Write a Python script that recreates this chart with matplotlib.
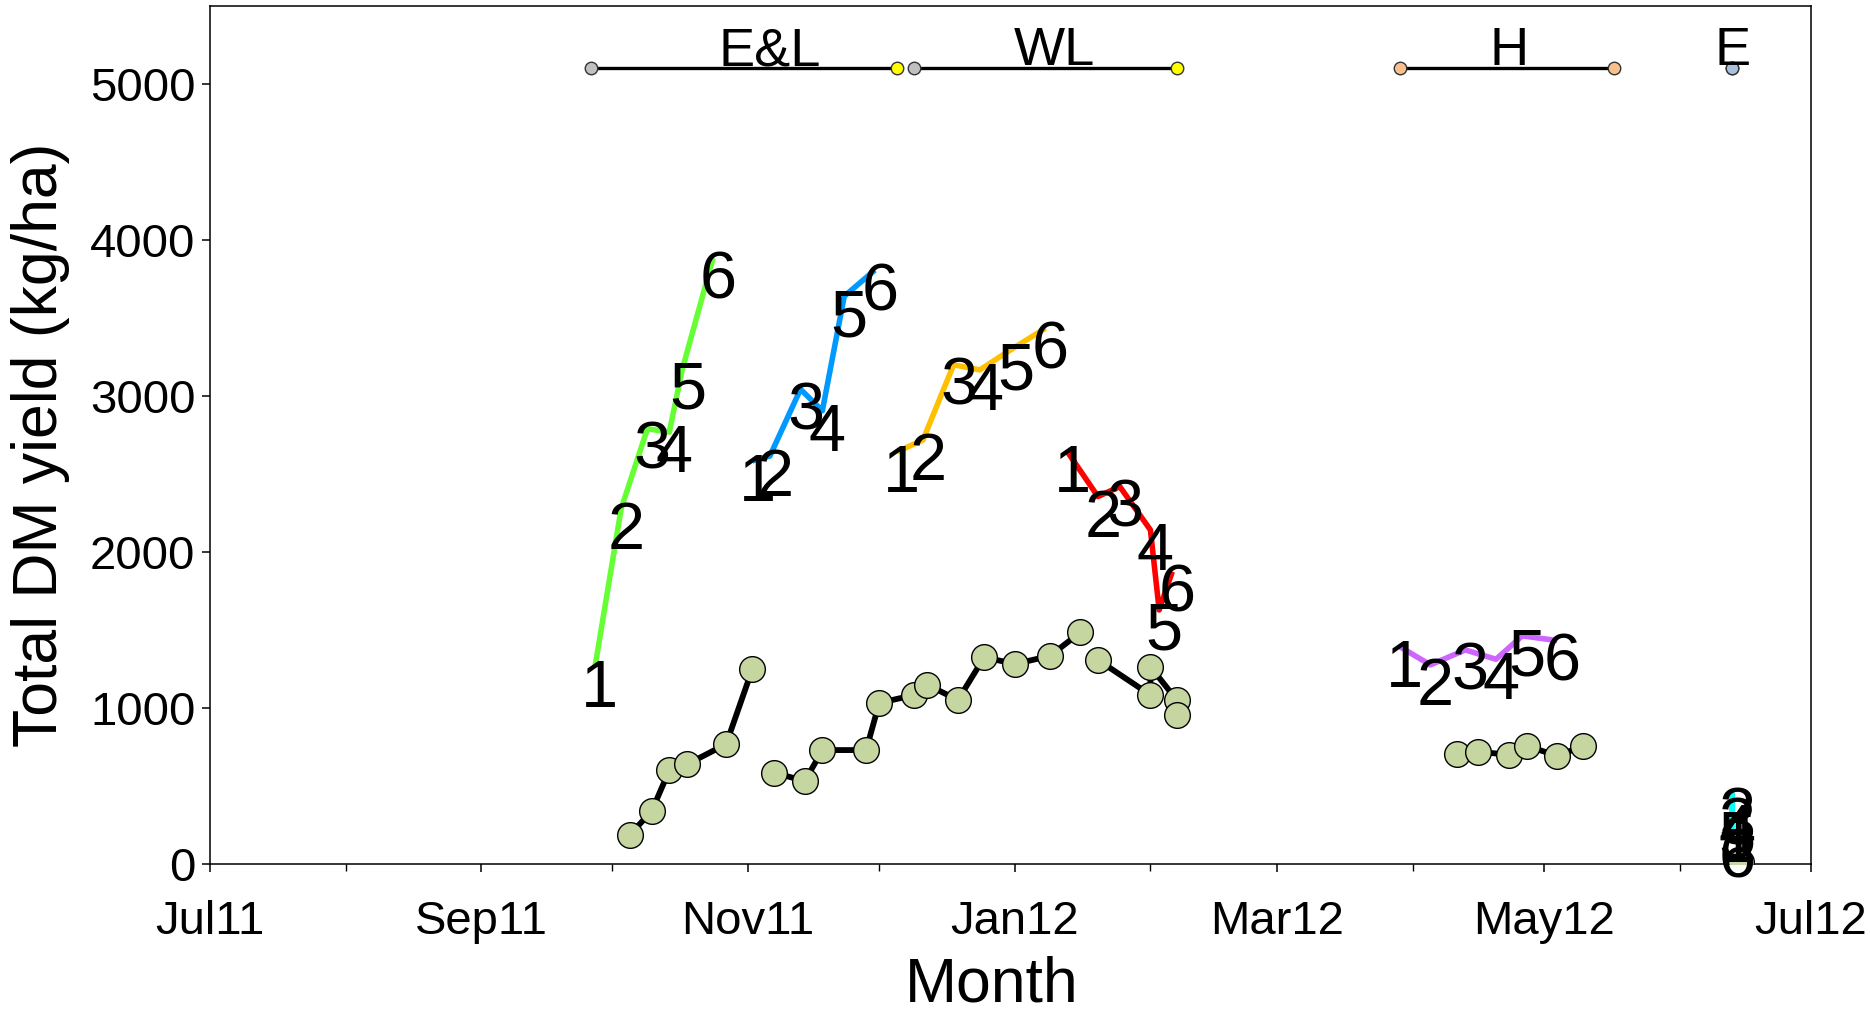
import datetime as dt
import matplotlib
matplotlib.use("Agg")
import matplotlib.pyplot as plt
import matplotlib.dates as mdates

plt.rcParams['font.family'] = ['Liberation Sans', 'DejaVu Sans']

# ---------------- data ----------------
# cumulative DM yield series, points labelled 1..6
el_green_dates = ['2011-09-27', '2011-10-03', '2011-10-09', '2011-10-14', '2011-10-17', '2011-10-24']
el_green_vals = [1261, 2278, 2790, 2768, 3173, 3884]

el_blue_dates = ['2011-11-02', '2011-11-06', '2011-11-13', '2011-11-18', '2011-11-23', '2011-11-30']
el_blue_vals = [2584, 2615, 3043, 2905, 3639, 3807]

wl_orange_dates = ['2011-12-05', '2011-12-11', '2011-12-18', '2011-12-24', '2011-12-31', '2012-01-08']
wl_orange_vals = [2641, 2718, 3200, 3167, 3295, 3434]

wl_red_dates = ['2012-01-13', '2012-01-20', '2012-01-25', '2012-02-01', '2012-02-03', '2012-02-06']
wl_red_vals = [2643, 2355, 2419, 2141, 1628, 1874]

h_purple_dates = ['2012-03-29', '2012-04-05', '2012-04-13', '2012-04-20', '2012-04-26', '2012-05-04']
h_purple_vals = [1393, 1276, 1372, 1312, 1462, 1432]

e_cyan_dates = ['2012-06-13'] * 6
e_cyan_vals = [270, 450, 380, 340, 300, 170]

series_colors = ['#66ff33', '#0099ff', '#ffc000', '#ff0000', '#cc66ff', '#00ffff']

# green-circle black-line groups
c1_dates = ['2011-10-05', '2011-10-10', '2011-10-14', '2011-10-18', '2011-10-27', '2011-11-02']
c1_vals = [187, 340, 600, 638, 768, 1250]

c2_dates = ['2011-11-07', '2011-11-14', '2011-11-18', '2011-11-28', '2011-12-01', '2011-12-09',
            '2011-12-12', '2011-12-19', '2011-12-25', '2012-01-01', '2012-01-09', '2012-01-16']
c2_vals = [585, 531, 730, 730, 1032, 1083, 1148, 1051, 1325, 1282, 1333, 1485]

c3_dates = ['2012-01-20', '2012-02-01', '2012-02-01', '2012-02-07', '2012-02-07']
c3_vals = [1308, 1083, 1265, 1051, 956]

c4_dates = ['2012-04-11', '2012-04-16', '2012-04-23', '2012-04-27', '2012-05-04', '2012-05-10']
c4_vals = [706, 720, 699, 757, 693, 757]

c5_dates = ['2012-06-15']
c5_vals = [10]

# period bars
period_names = ['E&L', 'WL', 'H', 'E']
period_start = ['2011-09-26', '2011-12-09', '2012-03-29', '2012-06-13']
period_end = ['2011-12-05', '2012-02-07', '2012-05-17', '2012-06-13']
period_label_date = ['2011-11-06', '2012-01-10', '2012-04-23', '2012-06-13']
period_start_color = ['#c0c0c0', '#c0c0c0', '#f8c08c', '#a9c0dc']
period_end_color = ['#ffff00', '#ffff00', '#f8c08c', '#a9c0dc']
period_level = 5100

xticklabels = ['Jul11', 'Sep11', 'Nov11', 'Jan12', 'Mar12', 'May12', 'Jul12']


def to_dt(lst):
    return [dt.datetime.strptime(s, '%Y-%m-%d') for s in lst]


# ---------------- figure ----------------
fig = plt.figure(figsize=(18.7, 10.1), dpi=100)
ax = fig.add_axes([0.1123, 0.1446, 0.8561, 0.8495])

# black lines with green circles
for dts, vals in [(c1_dates, c1_vals), (c2_dates, c2_vals), (c3_dates, c3_vals),
                  (c4_dates, c4_vals), (c5_dates, c5_vals)]:
    ax.plot(to_dt(dts), vals, color='black', lw=4.2, marker='o', ms=18.5,
            mfc='#c5d6a0', mec='black', mew=1.0, zorder=3)

# coloured labelled series
all_series = [(el_green_dates, el_green_vals), (el_blue_dates, el_blue_vals),
              (wl_orange_dates, wl_orange_vals), (wl_red_dates, wl_red_vals),
              (h_purple_dates, h_purple_vals), (e_cyan_dates, e_cyan_vals)]
for (dts, vals), col in zip(all_series, series_colors):
    xs = to_dt(dts)
    ax.plot(xs, vals, color=col, lw=4.0, solid_capstyle='butt', zorder=2)
    for i, (x, y) in enumerate(zip(xs, vals)):
        ax.annotate(str(i + 1), (x, y), xytext=(5, -40), textcoords='offset pixels',
                    ha='center', va='baseline', fontsize=48, color='black', zorder=4)

# period bars
for name, s, e, ld, cs, ce in zip(period_names, period_start, period_end,
                                  period_label_date, period_start_color, period_end_color):
    xs = to_dt([s, e])
    ax.plot(xs, [period_level, period_level], color='black', lw=2.4, zorder=2)
    ax.plot(xs[0], period_level, 'o', ms=9, mfc=cs, mec='#333333', mew=1.0, zorder=3)
    ax.plot(xs[1], period_level, 'o', ms=9, mfc=ce, mec='#333333', mew=1.0, zorder=3)
    ax.annotate(name, (to_dt([ld])[0], period_level), xytext=(0, 3),
                textcoords='offset pixels', ha='center', va='baseline', fontsize=39,
                zorder=4)

# axes
ax.set_xlim(dt.datetime(2011, 7, 1), dt.datetime(2012, 7, 1))
ax.set_ylim(0, 5500)
ax.xaxis.set_major_locator(mdates.MonthLocator(bymonth=[1, 3, 5, 7, 9, 11]))
ax.xaxis.set_minor_locator(mdates.MonthLocator())
ax.set_xticks(ax.get_xticks())
ax.set_xticklabels(xticklabels)
ax.set_yticks([0, 1000, 2000, 3000, 4000, 5000])

ax.tick_params(axis='both', which='major', direction='out', length=6, width=1.1,
               labelsize=34)
ax.tick_params(axis='x', which='major', pad=20)
ax.tick_params(axis='y', which='major', pad=4.5)
ax.tick_params(axis='x', which='minor', direction='out', length=5, width=1.0)
for sp in ax.spines.values():
    sp.set_linewidth(1.1)

ax.set_xlabel('Month', fontsize=45, labelpad=8)
ax.set_ylabel('Total DM yield (kg/ha)', fontsize=45, labelpad=14)
ax.xaxis.label.set_x(0.488)
ax.yaxis.label.set_y(0.488)

fig.savefig('out.png', dpi=100)
